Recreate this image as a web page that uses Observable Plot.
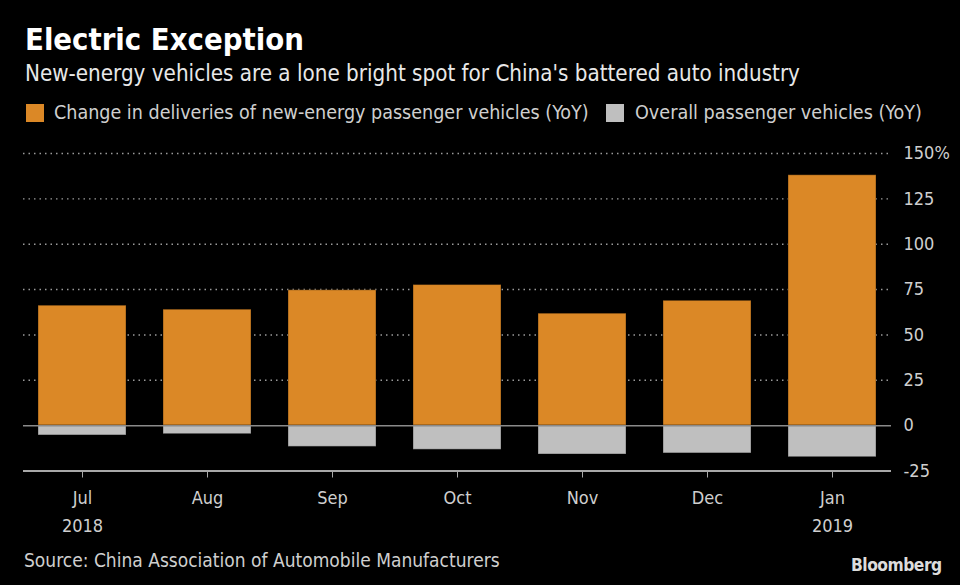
<!DOCTYPE html>
<html>
<head>
<meta charset="utf-8">
<script src="https://cdn.jsdelivr.net/npm/d3@7"></script>
<script src="https://cdn.jsdelivr.net/npm/@observablehq/plot@0.6"></script>
<style>
  html, body { margin: 0; padding: 0; background: #000; }
  #wrap { position: relative; width: 960px; height: 585px; background: #000; overflow: hidden;
          font-family: "DejaVu Sans", sans-serif; font-stretch: condensed; }
  .t { position: absolute; white-space: nowrap; line-height: 1; display: inline-block; z-index: 2; }
  .sw { position: absolute; width: 18px; height: 18px; }
  #chart { position: absolute; left: 0; top: 140px; z-index: 1; }
  #chart svg { overflow: visible; }
  #chart svg text { font-stretch: condensed; }
</style>
</head>
<body>
<div id="wrap">
  <div class="t" id="title" style="color:#fff;font-weight:bold;">Electric Exception</div>
  <div class="t" id="subtitle" style="color:#e8e8e8;">New-energy vehicles are a lone bright spot for China's battered auto industry</div>
  <div class="sw" style="left:26px;top:104px;background:#DB8826;"></div>
  <div class="t" id="leg1" style="color:#cfcfcf;">Change in deliveries of new-energy passenger vehicles (YoY)</div>
  <div class="sw" style="left:606px;top:104px;background:#BFBFBF;"></div>
  <div class="t" id="leg2" style="color:#cfcfcf;">Overall passenger vehicles (YoY)</div>
  <div id="chart"></div>
  <div class="t" id="source" style="color:#cfcfcf;">Source: China Association of Automobile Manufacturers</div>
  <div class="t" id="brand" style="color:#dcdcdc;font-weight:bold;letter-spacing:-0.5px;">Bloomberg</div>
</div>
<script>
const months = ["Jul", "Aug", "Sep", "Oct", "Nov", "Dec", "Jan"];
const years = ["2018", "", "", "", "", "", "2019"];
const newEnergy = [66.1, 63.9, 74.6, 77.5, 61.7, 68.8, 138];
const overall = [-5.4, -4.7, -11.7, -13.3, -15.9, -15.3, -17.4];
const yTicks = [-25, 0, 25, 50, 75, 100, 125, 150];
const gridTicks = [25, 50, 75, 100, 125, 150];

const nevData = months.map((m, i) => ({month: m, value: newEnergy[i]}));
const allData = months.map((m, i) => ({month: m, value: overall[i]}));

function place(id, x, baseline, targetWidth, fs0) {
  const el = document.getElementById(id);
  el.style.fontSize = fs0 + "px";
  const w = el.getBoundingClientRect().width;
  const fs = fs0 * targetWidth / w;
  el.style.fontSize = fs + "px";
  el.style.left = x + "px";
  el.style.top = (baseline - 0.846 * fs) + "px";
}
place("title", 25, 50, 279, 29);
place("subtitle", 25, 81, 775, 20);
place("leg1", 54, 119.3, 535, 18);
place("leg2", 635, 119.3, 287, 18);
place("source", 24, 566.7, 476, 18);
place("brand", 851, 571.7, 91, 18);

const chart = Plot.plot({
  width: 960,
  height: 420,
  marginLeft: 23,
  marginRight: 69,
  marginTop: 13,
  marginBottom: 89.5,
  style: {background: "transparent", color: "#cfcfcf", fontFamily: "DejaVu Sans, sans-serif", fontSize: "18px"},
  x: {domain: months, paddingInner: 0.3, paddingOuter: 0.1, label: null},
  y: {domain: [-25, 150], label: null},
  marks: [
    Plot.gridY(gridTicks, {stroke: "#9a9a9a", strokeOpacity: 1, strokeWidth: 1.4, strokeDasharray: "1.5,4"}),
    Plot.barY(nevData, {x: "month", y: "value", fill: "#DB8826", stroke: "#000", strokeOpacity: 0.35, strokeWidth: 1}),
    Plot.barY(allData, {x: "month", y: "value", fill: "#BFBFBF", stroke: "#000", strokeOpacity: 0.35, strokeWidth: 1}),
    Plot.ruleY([0], {stroke: "#8a8a8a", strokeWidth: 1.5}),
    Plot.ruleY([-25], {stroke: "#a8a8a8", strokeWidth: 2}),
    Plot.axisX({
      tickSize: 7, tickPadding: 6, stroke: "#a8a8a8", fontSize: 18, lineHeight: 1.55,
      tickFormat: (d) => { const i = months.indexOf(d); return years[i] ? d + "\n" + years[i] : d; }
    }),
    Plot.axisY({
      anchor: "right", ticks: yTicks, tickSize: 0, tickPadding: 12, fontSize: 18,
      tickFormat: (d) => d === 150 ? "150%" : String(d)
    })
  ]
});
document.getElementById("chart").appendChild(chart);
</script>
</body>
</html>
